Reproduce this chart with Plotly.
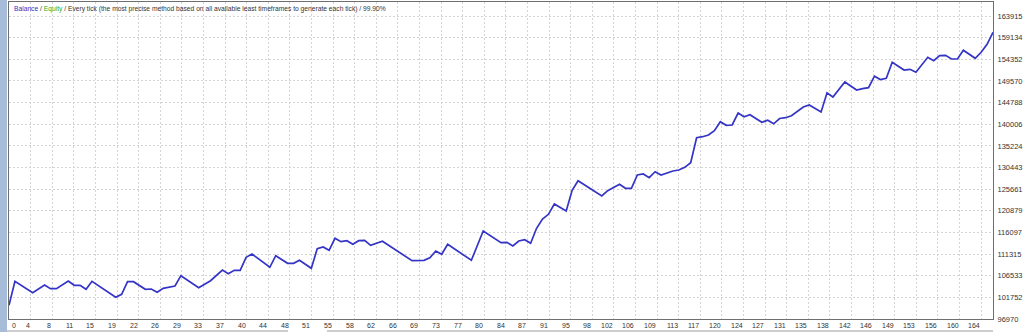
import plotly.graph_objects as go

# ---- data ----
trades = [0, 1, 4, 6, 7, 8, 10, 11, 12, 13, 14, 18, 19, 20, 21, 23, 24, 25, 26, 28,
          29, 32, 34, 35, 36, 37, 38, 39, 40, 41, 44, 45, 47, 48, 49, 51, 52, 53, 54, 55,
          56, 57, 58, 59, 60, 61, 63, 68, 70, 71, 72, 73, 74, 78, 80, 83, 84, 85, 86, 87,
          88, 89, 90, 91, 92, 94, 95, 96, 100, 101, 102, 103, 104, 105, 106, 107, 108, 109, 110, 111,
          112, 113, 114, 115, 116, 117, 118, 119, 120, 121, 122, 123, 124, 125, 127, 128, 129, 130, 131, 132,
          133, 134, 135, 137, 138, 139, 141, 143, 144, 145, 146, 147, 148, 149, 151, 152, 153, 154, 155, 156,
          157, 158, 159, 160, 161, 163, 164, 165, 166]
balance = [100000, 105301, 102781, 104483, 103665, 103665, 105367, 104417, 104417, 103533,
           105301, 101765, 102428, 105212, 105212, 103533, 103599, 102870, 103754, 104262,
           106538, 103886, 105433, 106693, 107798, 106980, 107731, 107731, 110604, 111333,
           108394, 110957, 109278, 109278, 109941, 108173, 112504, 112880, 112151, 114802,
           114051, 114272, 113476, 114272, 114360, 113255, 114139, 109853, 109941, 110515,
           111996, 111267, 113476, 109941, 116415, 113830, 113918, 113101, 114206, 114493,
           113697, 117012, 119067, 120106, 122382, 120835, 125409, 127530, 124149, 125320,
           126072, 126735, 125851, 125851, 128790, 129011, 128193, 129519, 128790, 129298,
           129674, 129895, 130491, 131508, 137032, 137253, 137628, 138579, 140567, 139772,
           139838, 142490, 141650, 142114, 140435, 140899, 140103, 141274, 141451, 141871,
           142932, 143816, 144258, 142711, 146953, 146025, 149340, 147572, 147859, 148080,
           150622, 149892, 150157, 153693, 151992, 152146, 151483, 153163, 154798, 154047,
           155151, 155240, 154422, 154422, 156345, 154577, 155903, 157670, 160322]

x_tick_labels = [0, 4, 8, 11, 15, 19, 22, 26, 29, 33, 37, 40, 44, 48, 51, 55, 58, 62, 66, 69,
                 73, 77, 80, 84, 87, 91, 95, 98, 102, 106, 109, 113, 117, 120, 124, 127, 131, 135, 138, 142,
                 146, 149, 153, 156, 160, 164]
y_tick_labels = [96970, 101752, 106533, 111315, 116097, 120879, 125661, 130443, 135224,
                 140006, 144788, 149570, 154352, 159134, 163915]

title_parts = ["Balance", "Equity",
               "Every tick (the most precise method based on all available least timeframes to generate each tick)",
               "99.90%"]

# ---- layout constants ----
W, H = 1024, 332
ML, MR, MT, MB = 9, 31, 2, 13
PW, PH = W - ML - MR, H - MT - MB
FONT = "Liberation Sans, Arial, sans-serif"
GRID = "#d4d4d4"
LINE = "#3434c6"

n = len(x_tick_labels) - 1
x_tick_pos = [i * x_tick_labels[-1] / n for i in range(n + 1)]
y_bottom = y_tick_labels[0]
y_step = (y_tick_labels[-1] - y_tick_labels[0]) / (len(y_tick_labels) - 1)
grid_px = 21.64
y_top = y_bottom + PH / grid_px * y_step

fig = go.Figure()
fig.add_trace(go.Scatter(x=trades, y=balance, mode="lines",
                         line=dict(color=LINE, width=1.7), hoverinfo="skip"))

annotations = []
for pos, lab in zip(x_tick_pos, x_tick_labels):
    annotations.append(dict(x=pos, y=0, xref="x", yref="paper", text=str(lab),
                            showarrow=False, xanchor="left" if lab == 0 else "right",
                            yanchor="middle", yshift=-6, xshift=1,
                            font=dict(family=FONT, size=7, color="#333333")))
title_html = (f"<span style='color:#3030c0'>{title_parts[0]}</span> / "
              f"<span style='color:#22b022'>{title_parts[1]}</span> / "
              f"{title_parts[2]} / {title_parts[3]}")
annotations.append(dict(x=0, y=1, xref="paper", yref="paper", text=title_html,
                        showarrow=False, xanchor="left", yanchor="middle",
                        xshift=3, yshift=-7,
                        font=dict(family=FONT, size=6.7, color="#333333")))

def px_x(p):
    return (p - ML) / PW

def px_y(p):
    return (H - MB - p) / PH

shapes = [
    dict(type="rect", xref="paper", yref="paper", x0=px_x(0), x1=px_x(7),
         y0=px_y(H), y1=px_y(0), fillcolor="#a7bcd8", line=dict(width=0), layer="below"),
    dict(type="line", xref="paper", yref="paper", x0=px_x(7), x1=px_x(288),
         y0=px_y(331), y1=px_y(331), line=dict(color="#9a9a9a", width=1)),
    dict(type="line", xref="paper", yref="paper", x0=px_x(327), x1=px_x(993),
         y0=px_y(331), y1=px_y(331), line=dict(color="#9a9a9a", width=1)),
]

fig.update_layout(
    width=W, height=H,
    margin=dict(l=ML, r=MR, t=MT, b=MB, pad=0),
    paper_bgcolor="white", plot_bgcolor="white",
    showlegend=False,
    annotations=annotations,
    shapes=shapes,
    xaxis=dict(range=[0, trades[-1]], tickvals=x_tick_pos, showticklabels=False,
               showgrid=True, gridcolor=GRID, griddash="2px,2px", gridwidth=1,
               zeroline=False, showline=True, mirror=True, linecolor="#6e6e6e",
               linewidth=1, ticks=""),
    yaxis=dict(range=[y_bottom, y_top], side="right", tickvals=y_tick_labels,
               ticktext=[str(v) for v in y_tick_labels],
               showgrid=True, gridcolor=GRID, griddash="2px,2px", gridwidth=1,
               zeroline=False, showline=True, mirror=True, linecolor="#6e6e6e",
               linewidth=1, ticks="", ticklabelstandoff=2,
               tickfont=dict(family=FONT, size=7.5, color="#333333")),
)

fig.write_html("out.html", config={"displayModeBar": False})
